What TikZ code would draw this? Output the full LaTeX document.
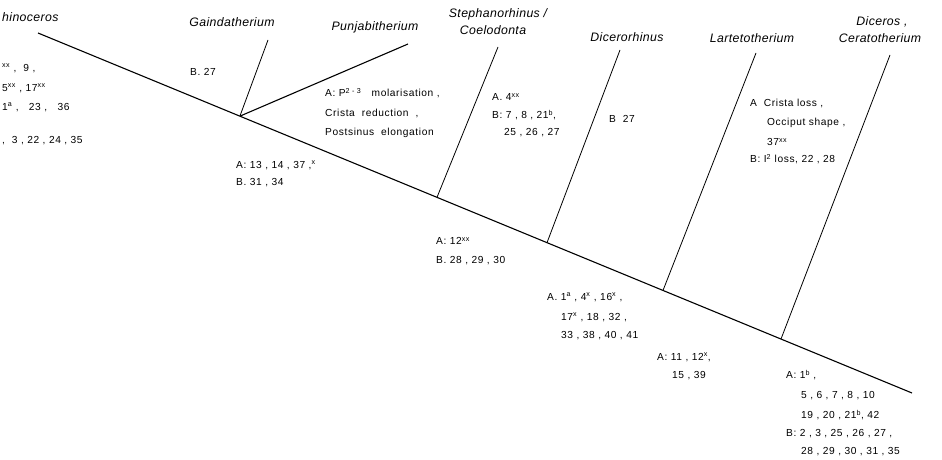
\documentclass[tikz,border=0pt]{standalone}
\usepackage{fontspec}
\setmainfont{Liberation Sans}
\newfontfamily\labelfont[LetterSpace=3]{Liberation Sans Italic}
\newfontfamily\smallfont[LetterSpace=6]{Liberation Sans}
\usetikzlibrary{calc}
\begin{document}
\begin{tikzpicture}[x=1pt,y=-1pt,
  lbl/.style={font=\labelfont\fontsize{12.3}{14}\selectfont, inner sep=0pt, align=center},
  txt/.style={font=\smallfont\fontsize{10.2}{12}\selectfont, inner sep=0pt, anchor=west},
  mainln/.style={line width=1.1pt},
  branch/.style={line width=0.8pt}]
\useasboundingbox (0,0) rectangle (942,460);
% main stem
\coordinate (s) at (38,33);
\coordinate (e) at (912,393);
\draw[mainln] (s) -- (e);
\coordinate (j1) at ($(s)!0.231!(e)$);
\coordinate (j2) at ($(s)!0.4565!(e)$);
\coordinate (j3) at ($(s)!0.5824!(e)$);
\coordinate (j4) at ($(s)!0.7151!(e)$);
\coordinate (j5) at ($(s)!0.8501!(e)$);
\coordinate (tg) at (268,40);
\coordinate (tp) at (408,44);
\coordinate (ts) at (498,47);
\coordinate (td) at (620,50);
\coordinate (tl) at (756,53);
\coordinate (tc) at (890,55);
\draw[branch] (j1) -- (tg);
\draw[mainln] (j1) -- (tp);
\draw[branch] (j2) -- (ts);
\draw[branch] (j3) -- (td);
\draw[branch] (j4) -- (tl);
\draw[branch] (j5) -- (tc);
% taxon labels
\node[lbl, anchor=west] (nrh) at (2,17) {hinoceros};
\node[lbl] (ngd) at (232,22) {Gaindatherium};
\node[lbl] (npj) at (375,27) {Punjabitherium};
\node[lbl] (nst) at (498,14) {Stephanorhinus /};
\node[lbl] (nco) at (493,30) {Coelodonta};
\node[lbl] (ndr) at (627,37) {Dicerorhinus};
\node[lbl] (nlt) at (752,38) {Lartetotherium};
\node[lbl] (ndc) at (882,22) {Diceros ,};
\node[lbl] (nct) at (880,38) {Ceratotherium};
% left cropped block
\node[txt] (l1) at (2,68) {\textsuperscript{xx} , \ 9 ,};
\node[txt] (l2) at (2,88) {5\textsuperscript{xx} , 17\textsuperscript{xx}};
\node[txt] (l3) at (2,107) {1\textsuperscript{a} , \ \ 23 , \ \ 36};
\node[txt] (l4) at (2,141) {, \ 3 , 22 , 24 , 35};
% Gaindatherium
\node[txt] (g1) at (190,72) {B. 27};
% Punjabitherium
\node[txt] (p1) at (325,93) {A: P\textsuperscript{2 - 3} \ \ molarisation ,};
\node[txt] (p2) at (325,113) {Crista \ reduction \ ,};
\node[txt] (p3) at (325,133) {Postsinus \ elongation};
% node after junction 1
\node[txt] (a1) at (236,165) {A: 13 , 14 , 37 ,\textsuperscript{x}};
\node[txt] (a2) at (236,183) {B. 31 , 34};
% Stephanorhinus
\node[txt] (s1) at (492,97) {A. 4\textsuperscript{xx}};
\node[txt] (s2) at (492,115) {B: 7 , 8 , 21\textsuperscript{b},};
\node[txt] (s3) at (504,133) {25 , 26 , 27};
% Dicerorhinus
\node[txt] (d1) at (609,119) {B \ 27};
% after junction 2
\node[txt] (b1) at (436,241) {A: 12\textsuperscript{xx}};
\node[txt] (b2) at (436,261) {B. 28 , 29 , 30};
% after junction 3
\node[txt] (c1) at (547,297) {A. 1\textsuperscript{a} , 4\textsuperscript{x} , 16\textsuperscript{x} ,};
\node[txt] (c2) at (561,317) {17\textsuperscript{x} , 18 , 32 ,};
\node[txt] (c3) at (561,336) {33 , 38 , 40 , 41};
% after junction 4
\node[txt] (e1) at (657,357) {A: 11 , 12\textsuperscript{x},};
\node[txt] (e2) at (672,376) {15 , 39};
% Lartetotherium / Diceros common
\node[txt] (m1) at (750,103) {A \ Crista loss ,};
\node[txt] (m2) at (767,123) {Occiput shape ,};
\node[txt] (m3) at (767,142) {37\textsuperscript{xx}};
\node[txt] (m4) at (750,159) {B: I\textsuperscript{2} loss, 22 , 28};
% after junction 5
\node[txt] (f1) at (786,375) {A: 1\textsuperscript{b} ,};
\node[txt] (f2) at (801,396) {5 , 6 , 7 , 8 , 10};
\node[txt] (f3) at (801,415) {19 , 20 , 21\textsuperscript{b}, 42};
\node[txt] (f4) at (786,434) {B: 2 , 3 , 25 , 26 , 27 ,};
\node[txt] (f5) at (801,452) {28 , 29 , 30 , 31 , 35};
\end{tikzpicture}
\end{document}
